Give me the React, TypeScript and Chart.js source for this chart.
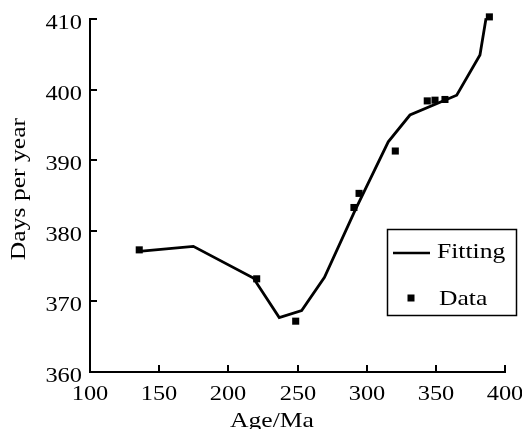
import React, { useEffect, useRef } from "react";
import { Chart, registerables } from "chart.js";

Chart.register(...registerables);

// Fitted curve (Age in Ma, days per year)
const fitAge = [135.4, 174.7, 218.1, 236.8, 253.0, 269.5, 291.6, 315.6, 331.3, 365.1, 381.9, 386.3];
const fitDays = [377.1, 377.8, 373.3, 367.7, 368.7, 373.4, 382.9, 392.6, 396.4, 399.2, 404.9, 410.1];

// Observed data
const dataAge = [135.6, 220.5, 248.7, 290.8, 294.5, 320.7, 343.8, 349.4, 356.6, 388.7];
const dataDays = [377.3, 373.2, 367.2, 383.3, 385.3, 391.3, 398.4, 398.5, 398.6, 410.3];

const xRange = [100, 400];
const xStep = 50;
const yRange = [360, 410];
const yStep = 10;

const xTitle = "Age/Ma";
const yTitle = "Days per year";
const seriesNames = ["Fitting", "Data"];

const FONT = "'Liberation Serif', 'Times New Roman', serif";
const STRETCH = 1.22;

function stretchedText(
  ctx: CanvasRenderingContext2D,
  text: string,
  x: number,
  y: number,
  align: "left" | "center" | "right"
) {
  ctx.save();
  ctx.translate(x, y);
  ctx.scale(STRETCH, 1);
  ctx.textAlign = align;
  ctx.fillText(text, 0, 0);
  ctx.restore();
}

const decorPlugin = {
  id: "decor",
  afterDraw(chart: any) {
    const ctx: CanvasRenderingContext2D = chart.ctx;
    const area = chart.chartArea;
    const xs = chart.scales.x;
    const ys = chart.scales.y;
    ctx.save();
    ctx.strokeStyle = "#000";
    ctx.fillStyle = "#000";
    ctx.lineWidth = 2;
    ctx.textBaseline = "alphabetic";
    ctx.font = `20px ${FONT}`;
    // inward tick marks + tick labels (values from the scales)
    xs.ticks.forEach((t: any) => {
      const px = Math.round(xs.getPixelForValue(t.value));
      ctx.beginPath();
      ctx.moveTo(px, area.bottom);
      ctx.lineTo(px, area.bottom - 7);
      ctx.stroke();
      stretchedText(ctx, String(t.value), px, area.bottom + 28, "center");
    });
    ys.ticks.forEach((t: any) => {
      const py = Math.round(ys.getPixelForValue(t.value));
      ctx.beginPath();
      ctx.moveTo(area.left, py);
      ctx.lineTo(area.left + 7, py);
      ctx.stroke();
      stretchedText(ctx, String(t.value), area.left - 8, py + 10, "right");
    });

    // axis titles
    ctx.font = `21px ${FONT}`;
    stretchedText(ctx, xTitle, 272, 427, "center");
    ctx.save();
    ctx.translate(25, 189);
    ctx.rotate(-Math.PI / 2);
    stretchedText(ctx, yTitle, 0, 0, "center");
    ctx.restore();

    // legend
    const lx = 387.5, ly = 229.5, lw = 129, lh = 86;
    ctx.fillStyle = "#fff";
    ctx.fillRect(lx, ly, lw, lh);
    ctx.lineWidth = 1.5;
    ctx.strokeStyle = "#000";
    ctx.strokeRect(lx, ly, lw, lh);
    ctx.lineWidth = 2.5;
    ctx.beginPath();
    ctx.moveTo(393, 253);
    ctx.lineTo(430, 253);
    ctx.stroke();
    ctx.fillStyle = "#000";
    ctx.fillRect(407.5, 294.5, 7, 7);
    ctx.font = `21px ${FONT}`;
    stretchedText(ctx, seriesNames[0], 437, 258, "left");
    stretchedText(ctx, seriesNames[1], 439, 305, "left");
    ctx.restore();
  },
};

export default function App() {
  const canvasRef = useRef<HTMLCanvasElement | null>(null);

  useEffect(() => {
    if (!canvasRef.current) return;
    const chart = new Chart(canvasRef.current, {
      type: "scatter",
      data: {
        datasets: [
          {
            label: seriesNames[0],
            data: fitAge.map((x, i) => ({ x, y: fitDays[i] })),
            showLine: true,
            borderColor: "#000",
            borderWidth: 2.8,
            pointRadius: 0,
            fill: false,
            clip: false,
          } as any,
          {
            label: seriesNames[1],
            data: dataAge.map((x, i) => ({ x, y: dataDays[i] })),
            showLine: false,
            pointStyle: "rect",
            pointRadius: 5,
            pointBorderWidth: 0,
            backgroundColor: "#000",
            borderColor: "#000",
            clip: false,
          } as any,
        ],
      },
      options: {
        animation: false,
        responsive: true,
        maintainAspectRatio: false,
        layout: { padding: { top: 19, right: 17, left: 0, bottom: 0 } },
        plugins: { legend: { display: false }, tooltip: { enabled: false } },
        scales: {
          x: {
            type: "linear",
            min: xRange[0],
            max: xRange[1],
            grid: { display: false },
            border: { display: true, color: "#000", width: 2 },
            ticks: { stepSize: xStep, autoSkip: false, maxRotation: 0, display: false },
            afterFit: (s: any) => {
              s.height = 57;
            },
          },
          y: {
            type: "linear",
            min: yRange[0],
            max: yRange[1],
            grid: { display: false },
            border: { display: true, color: "#000", width: 2 },
            ticks: { stepSize: yStep, autoSkip: false, display: false },
            afterFit: (s: any) => {
              s.width = 90;
            },
          },
        },
      },
      plugins: [decorPlugin],
    });
    return () => chart.destroy();
  }, []);

  return (
    <div style={{ position: "fixed", left: 0, top: 0, width: 522, height: 429, background: "#fff" }}>
      <canvas ref={canvasRef} />
    </div>
  );
}
